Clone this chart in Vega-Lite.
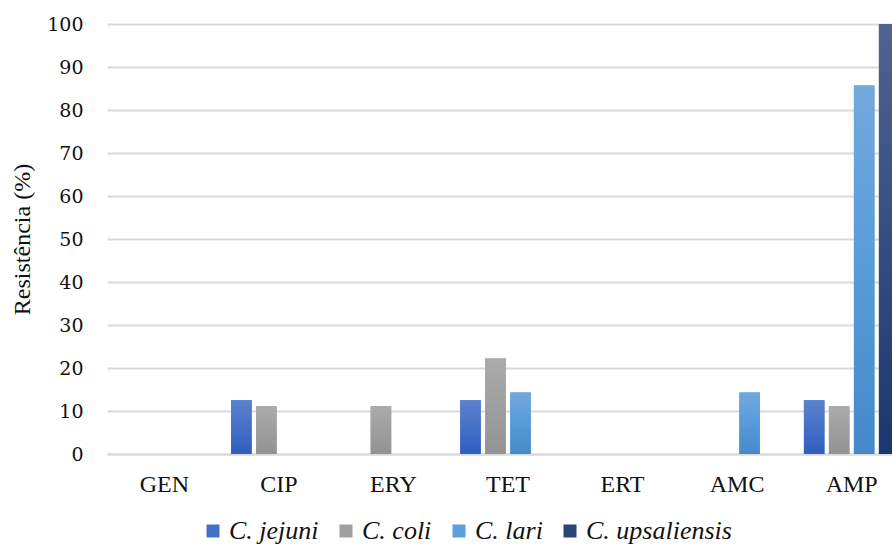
{
  "$schema": "https://vega.github.io/schema/vega-lite/v6.json",
  "autosize": {"type": "none"},
  "width": 802,
  "height": 430,
  "padding": {"left": 107, "top": 24, "right": 0, "bottom": 91},
  "background": "white",
  "config": {
    "view": {"stroke": null},
    "font": "Liberation Serif"
  },
  "data": {
    "values": [
      {"antibiotico": "GEN", "especie": "C. jejuni", "resistencia": 0},
      {"antibiotico": "GEN", "especie": "C. coli", "resistencia": 0},
      {"antibiotico": "GEN", "especie": "C. lari", "resistencia": 0},
      {"antibiotico": "GEN", "especie": "C. upsaliensis", "resistencia": 0},
      {"antibiotico": "CIP", "especie": "C. jejuni", "resistencia": 12.5},
      {"antibiotico": "CIP", "especie": "C. coli", "resistencia": 11.1},
      {"antibiotico": "CIP", "especie": "C. lari", "resistencia": 0},
      {"antibiotico": "CIP", "especie": "C. upsaliensis", "resistencia": 0},
      {"antibiotico": "ERY", "especie": "C. jejuni", "resistencia": 0},
      {"antibiotico": "ERY", "especie": "C. coli", "resistencia": 11.1},
      {"antibiotico": "ERY", "especie": "C. lari", "resistencia": 0},
      {"antibiotico": "ERY", "especie": "C. upsaliensis", "resistencia": 0},
      {"antibiotico": "TET", "especie": "C. jejuni", "resistencia": 12.5},
      {"antibiotico": "TET", "especie": "C. coli", "resistencia": 22.2},
      {"antibiotico": "TET", "especie": "C. lari", "resistencia": 14.3},
      {"antibiotico": "TET", "especie": "C. upsaliensis", "resistencia": 0},
      {"antibiotico": "ERT", "especie": "C. jejuni", "resistencia": 0},
      {"antibiotico": "ERT", "especie": "C. coli", "resistencia": 0},
      {"antibiotico": "ERT", "especie": "C. lari", "resistencia": 0},
      {"antibiotico": "ERT", "especie": "C. upsaliensis", "resistencia": 0},
      {"antibiotico": "AMC", "especie": "C. jejuni", "resistencia": 0},
      {"antibiotico": "AMC", "especie": "C. coli", "resistencia": 0},
      {"antibiotico": "AMC", "especie": "C. lari", "resistencia": 14.3},
      {"antibiotico": "AMC", "especie": "C. upsaliensis", "resistencia": 0},
      {"antibiotico": "AMP", "especie": "C. jejuni", "resistencia": 12.5},
      {"antibiotico": "AMP", "especie": "C. coli", "resistencia": 11.1},
      {"antibiotico": "AMP", "especie": "C. lari", "resistencia": 85.7},
      {"antibiotico": "AMP", "especie": "C. upsaliensis", "resistencia": 100}
    ]
  },
  "encoding": {
    "x": {
      "field": "antibiotico",
      "type": "nominal",
      "sort": ["GEN", "CIP", "ERY", "TET", "ERT", "AMC", "AMP"],
      "scale": {"paddingInner": 0.127, "paddingOuter": 0.064},
      "axis": {
        "title": null,
        "labelAngle": 0,
        "labelFont": "Liberation Serif",
        "labelFontSize": 24,
        "labelColor": "#111111",
        "labelPadding": 18,
        "ticks": false,
        "domain": true,
        "domainColor": "#d9d9d9",
        "domainWidth": 2,
        "grid": false
      }
    },
    "xOffset": {
      "field": "especie",
      "type": "nominal",
      "sort": ["C. jejuni", "C. coli", "C. lari", "C. upsaliensis"],
      "scale": {"paddingInner": 0.18, "paddingOuter": 0.09}
    },
    "y": {
      "field": "resistencia",
      "type": "quantitative",
      "scale": {"domain": [0, 100], "nice": false},
      "axis": {
        "title": "Resistência (%)",
        "titleFont": "Liberation Serif",
        "titleFontSize": 24,
        "titleFontWeight": "normal",
        "titleColor": "#111111",
        "titleX": -85,
        "titleY": 215,
        "titleAngle": -90,
        "titleAlign": "center",
        "titleBaseline": "middle",
        "values": [0, 10, 20, 30, 40, 50, 60, 70, 80, 90, 100],
        "labelFont": "DejaVu Serif",
        "labelFontSize": 19,
        "labelColor": "#111111",
        "labelPadding": 24,
        "ticks": false,
        "domain": false,
        "grid": true,
        "gridColor": "#d9d9d9",
        "gridWidth": 2
      }
    }
  },
  "layer": [
    {
      "mark": {"type": "bar", "color": "#c8c8c8", "opacity": 0.7, "xOffset": 3, "y2Offset": 2},
      "encoding": {}
    },
    {
      "mark": {"type": "bar"},
      "encoding": {
        "color": {
          "field": "especie",
          "type": "nominal",
          "sort": ["C. jejuni", "C. coli", "C. lari", "C. upsaliensis"],
          "scale": {
            "domain": ["C. jejuni", "C. coli", "C. lari", "C. upsaliensis"],
            "range": ["#4470c8", "#a0a0a0", "#5c9fdc", "#2a4479"]
          },
          "legend": {
            "title": null,
            "orient": "none",
            "direction": "horizontal",
            "columns": 4,
            "legendX": 93,
            "legendY": 494,
            "symbolType": "square",
            "symbolSize": 169,
            "symbolStrokeWidth": 0,
            "labelFont": "Liberation Serif",
            "labelFontStyle": "italic",
            "labelFontSize": 26,
            "labelColor": "#111111",
            "labelOffset": 3,
            "columnPadding": 14,
            "labelLimit": 300
          }
        }
      }
    },
    {
      "mark": {"type": "bar"},
      "encoding": {
        "fill": {
          "condition": [
            {"test": "datum.especie === 'C. jejuni'", "value": {"gradient": "linear", "x1": 0, "y1": 0, "x2": 0, "y2": 1, "stops": [{"offset": 0, "color": "#5c81d0"}, {"offset": 1, "color": "#2f5fbf"}]}},
            {"test": "datum.especie === 'C. coli'", "value": {"gradient": "linear", "x1": 0, "y1": 0, "x2": 0, "y2": 1, "stops": [{"offset": 0, "color": "#ababab"}, {"offset": 1, "color": "#939393"}]}},
            {"test": "datum.especie === 'C. lari'", "value": {"gradient": "linear", "x1": 0, "y1": 0, "x2": 0, "y2": 1, "stops": [{"offset": 0, "color": "#73a9dd"}, {"offset": 0.5, "color": "#579bd9"}, {"offset": 1, "color": "#4589c8"}]}}
          ],
          "value": {"gradient": "linear", "x1": 0, "y1": 0, "x2": 0, "y2": 1, "stops": [{"offset": 0, "color": "#506390"}, {"offset": 1, "color": "#1b376f"}]}
        }
      }
    }
  ]
}
